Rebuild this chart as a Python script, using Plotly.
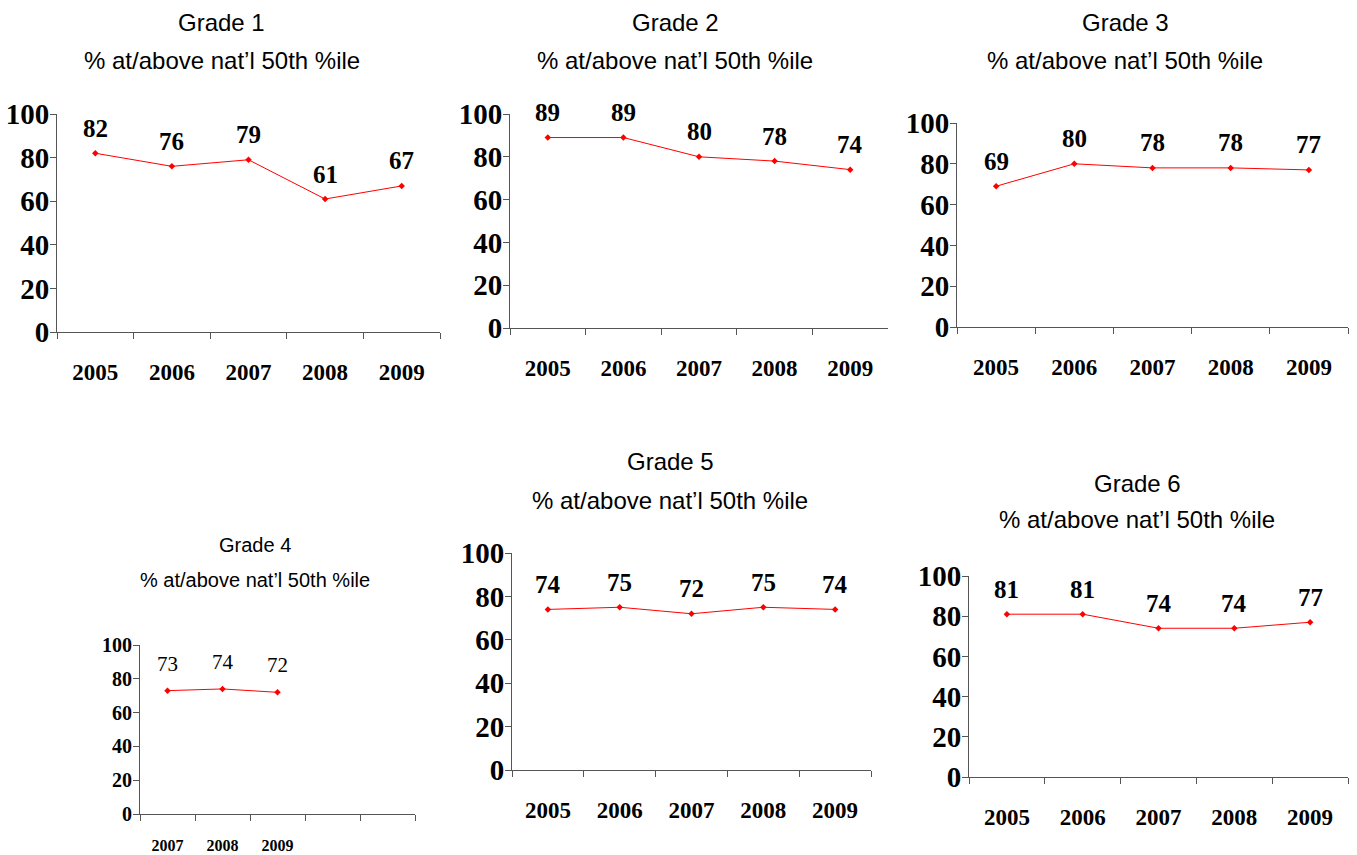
import plotly.graph_objects as go

# ---- data ----
years = ["2005", "2006", "2007", "2008", "2009"]
grade4_years = ["2007", "2008", "2009"]

grade1 = [82, 76, 79, 61, 67]
grade2 = [89, 89, 80, 78, 74]
grade3 = [69, 80, 78, 78, 77]
grade4 = [73, 74, 72]
grade5 = [74, 75, 72, 75, 74]
grade6 = [81, 81, 74, 74, 77]

panel_titles = ["Grade 1", "Grade 2", "Grade 3", "Grade 4", "Grade 5", "Grade 6"]
subtitle = "% at/above nat\u2019l 50th %ile"
y_ticks = [0, 20, 40, 60, 80, 100]

W, H = 1357, 855

# ---- panel layout (pixel boxes) ----
# box: x0, x1, y_top, y_bottom ; tc: title centre x, title line1 y, title line2 y
panels = [
    dict(x=years, y=grade1, box=(57, 440, 114, 332), tc=(222, 22, 60)),
    dict(x=years, y=grade2, box=(510, 888, 114, 328), tc=(675, 22, 60)),
    dict(x=years, y=grade3, box=(957, 1348, 123, 327), tc=(1125, 22, 60)),
    dict(x=grade4_years, y=grade4, box=(140, 415, 645, 814), tc=(255, 545, 580),
         cats=grade4_years + [" ", "  "], small=True),
    dict(x=years, y=grade5, box=(512, 871, 553, 770), tc=(670, 461, 500)),
    dict(x=years, y=grade6, box=(969, 1348, 576, 777), tc=(1137, 484, 519)),
]

SERIF = "Liberation Serif, Times New Roman, serif"
SANS = "Liberation Sans, Arial, sans-serif"
AXIS_COLOR = "#555555"

fig = go.Figure()
annotations = []
layout_axes = {}

for i, p in enumerate(panels):
    n = i + 1
    xa = "x" if n == 1 else f"x{n}"
    ya = "y" if n == 1 else f"y{n}"
    small = p.get("small", False)
    x0, x1, yt, yb = p["box"]
    cats = p.get("cats", years)

    fig.add_trace(go.Scatter(
        x=p["x"], y=p["y"], xaxis=xa, yaxis=ya,
        mode="lines+markers",
        line=dict(color="#ff0000", width=1),
        marker=dict(color="#ff0000", size=5, symbol="diamond"),
        showlegend=False, hoverinfo="x+y",
    ))

    # value labels above each point (category axes take the category index)
    for xv, yv in zip(p["x"], p["y"]):
        annotations.append(dict(
            x=cats.index(xv), y=yv, xref=xa, yref=ya, text=str(yv),
            showarrow=False, yshift=27 if small else 25, yanchor="middle",
            font=dict(family=SERIF, size=21 if small else 25, color="black",
                      weight="normal" if small else "bold"),
        ))

    # two-line panel title
    cx, t1, t2 = p["tc"]
    for txt, ty in ((panel_titles[i], t1), (subtitle, t2)):
        annotations.append(dict(
            x=cx / W, y=1 - ty / H, xref="paper", yref="paper", text=txt,
            showarrow=False, xanchor="center", yanchor="middle",
            font=dict(family=SANS, size=20 if small else 24, color="black"),
        ))

    layout_axes["xaxis" if n == 1 else f"xaxis{n}"] = dict(
        domain=[x0 / W, x1 / W], anchor=ya, type="category",
        categoryorder="array", categoryarray=cats, range=[-0.5, 4.5],
        tickson="boundaries", ticks="outside", ticklen=6, tickcolor=AXIS_COLOR,
        showline=True, linecolor=AXIS_COLOR, linewidth=1, showgrid=False,
        zeroline=False, fixedrange=True, automargin=False,
        ticklabelstandoff=17 if small else 19,
        tickfont=dict(family=SERIF, size=16 if small else 23, color="black",
                      weight="bold"),
    )
    layout_axes["yaxis" if n == 1 else f"yaxis{n}"] = dict(
        domain=[1 - yb / H, 1 - yt / H], anchor=xa, range=[0, 100],
        tickvals=y_ticks, ticks="outside", ticklen=6, tickcolor=AXIS_COLOR,
        showline=True, linecolor=AXIS_COLOR, linewidth=1, showgrid=False,
        zeroline=False, fixedrange=True, automargin=False,
        ticklabelstandoff=-3 if small else -5,
        tickfont=dict(family=SERIF, size=20 if small else 29, color="black",
                      weight="bold"),
    )

fig.update_layout(
    width=W, height=H,
    margin=dict(l=0, r=0, t=0, b=0, pad=0, autoexpand=False),
    paper_bgcolor="white", plot_bgcolor="white",
    annotations=annotations,
    **layout_axes,
)

fig.write_html("out.html")
